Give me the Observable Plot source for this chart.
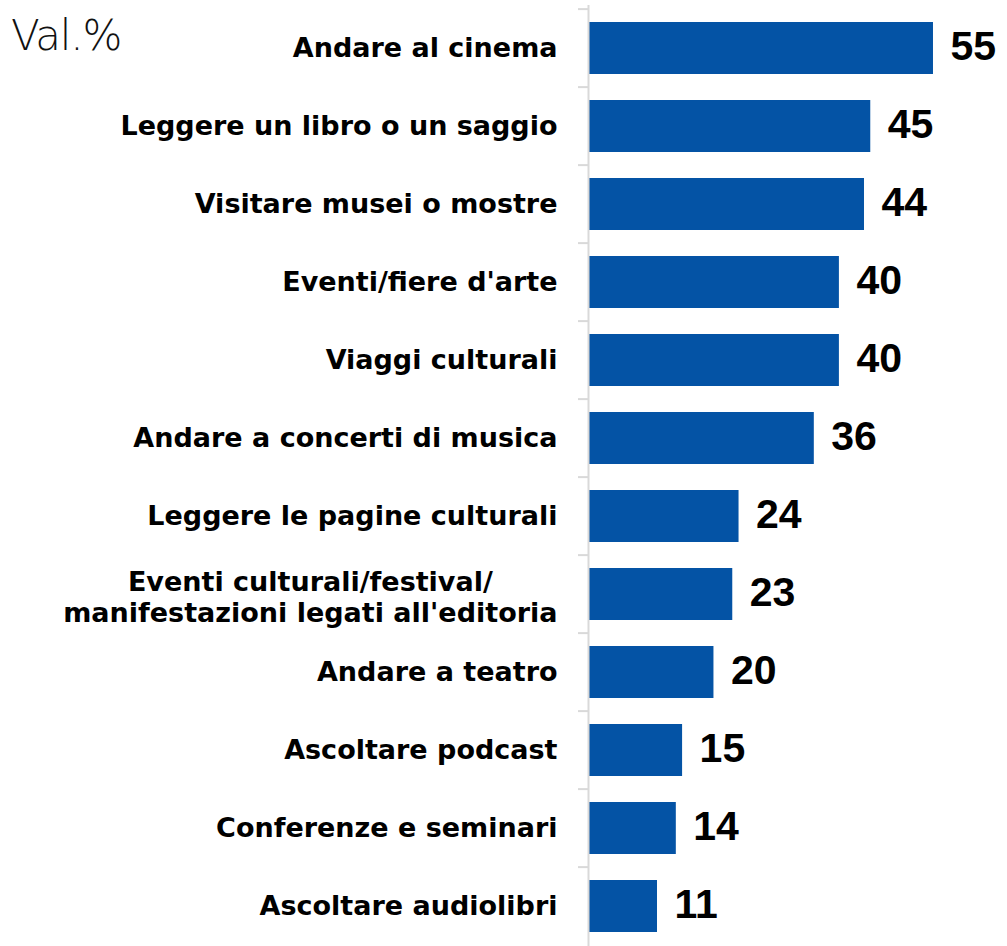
<!DOCTYPE html>
<html>
<head>
<meta charset="utf-8">
<script src="https://cdn.jsdelivr.net/npm/d3@7"></script>
<script src="https://cdn.jsdelivr.net/npm/@observablehq/plot@0.6"></script>
<style>
  body { margin: 0; background: #fff; }
  #wrap { position: relative; width: 1007px; height: 946px; }
  #unit { position: absolute; left: 11px; top: 15px; line-height: 1; font-family: "DejaVu Sans", sans-serif; font-weight: 200; font-size: 42px; color: #111; letter-spacing: -1.2px; }
</style>
</head>
<body>
<div id="wrap"><div id="unit">Val.%</div></div>
<script>
const categories = [
  "Andare al cinema",
  "Leggere un libro o un saggio",
  "Visitare musei o mostre",
  "Eventi/fiere d'arte",
  "Viaggi culturali",
  "Andare a concerti di musica",
  "Leggere le pagine culturali",
  "Eventi culturali/festival/\nmanifestazioni legati all'editoria",
  "Andare a teatro",
  "Ascoltare podcast",
  "Conferenze e seminari",
  "Ascoltare audiolibri"
];
const values = [55, 45, 44, 40, 40, 36, 24, 23, 20, 15, 14, 11];

const data = categories.map((c, i) => ({category: c, value: values[i]}));
const labelFont = "'DejaVu Sans', sans-serif";
const labelSize = 27;

const ctx = document.createElement("canvas").getContext("2d");
ctx.font = `700 ${labelSize}px ${labelFont}`;
const multi = data.filter(d => d.category.includes("\n"));
const single = data.filter(d => !d.category.includes("\n"));
const maxLineW = d => Math.max(...d.category.split("\n").map(s => ctx.measureText(s).width));
const w = maxLineW(multi[0]);

const step = 945 / 12;
const chart = Plot.plot({
  width: 1007,
  height: 946,
  marginLeft: 588,
  marginRight: 0,
  marginTop: 5,
  marginBottom: 0,
  x: {domain: [0, 66.8], axis: null},
  y: {domain: categories, range: [5, 950], paddingInner: 0.33, paddingOuter: 0.165, axis: null},
  style: {fontFamily: labelFont},
  marks: [
    Plot.axisY({tickSize: 10, dy: -step / 2, text: null, label: null, stroke: "#d9d9d9", strokeWidth: 2, strokeOpacity: 1}),
    Plot.barX(data, {y: "category", x: "value", fill: "#0453a5", insetLeft: 1}),
    Plot.ruleX([0], {stroke: "#d9d9d9", strokeWidth: 2}),
    Plot.text(single, {y: "category", x: 0, text: "category", textAnchor: "end", dx: -31, fontSize: labelSize, fontWeight: 700, fill: "#000"}),
    Plot.text(multi, {y: "category", x: 0, text: "category", textAnchor: "middle", lineAnchor: "middle", dx: -31 - w / 2, dy: 2, fontSize: labelSize, fontWeight: 700, fill: "#000", lineHeight: 1.15}),
    Plot.text(data, {y: "category", x: "value", text: d => String(d.value), textAnchor: "start", dx: 17, dy: -2, fontFamily: "'Liberation Sans', Arial, sans-serif", fontSize: 41, fontWeight: 700, fill: "#000"})
  ]
});
document.getElementById("wrap").appendChild(chart);
</script>
</body>
</html>
